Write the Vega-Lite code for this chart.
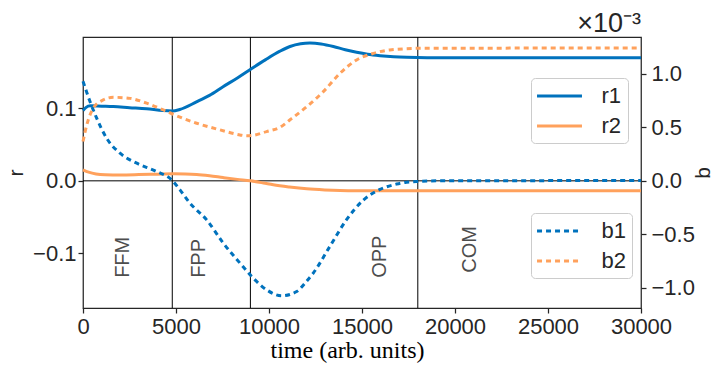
{
  "$schema": "https://vega.github.io/schema/vega-lite/v6.json",
  "width": 558,
  "height": 271,
  "autosize": {"type": "none"},
  "padding": {"left": 83, "top": 37, "right": 84, "bottom": 60},
  "background": "white",
  "config": {
    "view": {"stroke": "#262626", "strokeWidth": 1.25},
    "axis": {"grid": false, "domain": false, "labelFont": "Liberation Sans", "labelFontSize": 22, "labelColor": "#262626", "labelFlush": false, "labelOverlap": false, "tickColor": "#262626", "tickSize": 5, "tickWidth": 1.25, "titleFont": "Liberation Sans", "titleFontSize": 21, "titleFontWeight": "normal", "titleColor": "#262626"},
    "legend": {"orient": "none", "labelFont": "Liberation Sans", "labelFontSize": 22, "labelColor": "#262626", "symbolType": "M-2.14,0H2.14", "symbolSize": 441, "symbolStrokeWidth": 3, "symbolOffset": 10.5, "labelOffset": 30, "padding": 6, "rowPadding": 7, "strokeColor": "#cccccc", "fillColor": "rgba(255,255,255,0.85)", "cornerRadius": 4}
  },
  "title": {"text": "×10⁻³", "anchor": "end", "frame": "group", "font": "Liberation Sans", "fontSize": 27, "fontWeight": "normal", "color": "#262626", "baseline": "alphabetic", "offset": 5, "dy": 27},
  "datasets": {
    "vlines": [{"t": 4800}, {"t": 9000}, {"t": 18000}],
    "zero": [{"r": 0}],
    "labels": [
      {"t": 2150, "r": -0.134, "label": "FFM"},
      {"t": 6240, "r": -0.134, "label": "FPP"},
      {"t": 15970, "r": -0.134, "label": "OPP"},
      {"t": 20800, "r": -0.127, "label": "COM"}
    ],
    "rdata": [
      {"t": 0, "r": 0.097, "series": "r1"},
      {"t": 150, "r": 0.101, "series": "r1"},
      {"t": 400, "r": 0.1035, "series": "r1"},
      {"t": 1000, "r": 0.103, "series": "r1"},
      {"t": 1630, "r": 0.1025, "series": "r1"},
      {"t": 2500, "r": 0.101, "series": "r1"},
      {"t": 3420, "r": 0.0995, "series": "r1"},
      {"t": 4300, "r": 0.097, "series": "r1"},
      {"t": 4800, "r": 0.0965, "series": "r1"},
      {"t": 5200, "r": 0.0985, "series": "r1"},
      {"t": 6100, "r": 0.109, "series": "r1"},
      {"t": 6800, "r": 0.118, "series": "r1"},
      {"t": 7530, "r": 0.13, "series": "r1"},
      {"t": 8300, "r": 0.142, "series": "r1"},
      {"t": 9070, "r": 0.155, "series": "r1"},
      {"t": 9800, "r": 0.167, "series": "r1"},
      {"t": 10590, "r": 0.179, "series": "r1"},
      {"t": 11130, "r": 0.1855, "series": "r1"},
      {"t": 11700, "r": 0.1892, "series": "r1"},
      {"t": 12200, "r": 0.1902, "series": "r1"},
      {"t": 12800, "r": 0.189, "series": "r1"},
      {"t": 13460, "r": 0.1855, "series": "r1"},
      {"t": 14100, "r": 0.181, "series": "r1"},
      {"t": 14710, "r": 0.1775, "series": "r1"},
      {"t": 15300, "r": 0.1748, "series": "r1"},
      {"t": 15970, "r": 0.1728, "series": "r1"},
      {"t": 16700, "r": 0.1713, "series": "r1"},
      {"t": 17400, "r": 0.1705, "series": "r1"},
      {"t": 18500, "r": 0.17, "series": "r1"},
      {"t": 20000, "r": 0.17, "series": "r1"},
      {"t": 30000, "r": 0.17, "series": "r1"},
      {"t": 0, "r": 0.0152, "series": "r2"},
      {"t": 300, "r": 0.012, "series": "r2"},
      {"t": 700, "r": 0.0095, "series": "r2"},
      {"t": 1200, "r": 0.0085, "series": "r2"},
      {"t": 2000, "r": 0.0082, "series": "r2"},
      {"t": 3000, "r": 0.0086, "series": "r2"},
      {"t": 4000, "r": 0.0092, "series": "r2"},
      {"t": 4860, "r": 0.0097, "series": "r2"},
      {"t": 5500, "r": 0.0095, "series": "r2"},
      {"t": 6110, "r": 0.0088, "series": "r2"},
      {"t": 6800, "r": 0.007, "series": "r2"},
      {"t": 7530, "r": 0.0045, "series": "r2"},
      {"t": 8300, "r": 0.002, "series": "r2"},
      {"t": 9000, "r": 0.0, "series": "r2"},
      {"t": 9700, "r": -0.003, "series": "r2"},
      {"t": 10230, "r": -0.0055, "series": "r2"},
      {"t": 11100, "r": -0.0085, "series": "r2"},
      {"t": 12030, "r": -0.011, "series": "r2"},
      {"t": 13000, "r": -0.0125, "series": "r2"},
      {"t": 13820, "r": -0.0133, "series": "r2"},
      {"t": 15000, "r": -0.0137, "series": "r2"},
      {"t": 16000, "r": -0.0138, "series": "r2"},
      {"t": 30000, "r": -0.0138, "series": "r2"}
    ],
    "bdata": [
      {"t": 0, "b": 0.00093, "series": "b1"},
      {"t": 376, "b": 0.00074, "series": "b1"},
      {"t": 735, "b": 0.000585, "series": "b1"},
      {"t": 1270, "b": 0.000398, "series": "b1"},
      {"t": 1990, "b": 0.000258, "series": "b1"},
      {"t": 2890, "b": 0.000165, "series": "b1"},
      {"t": 3960, "b": 0.000087, "series": "b1"},
      {"t": 4770, "b": 0.000009, "series": "b1"},
      {"t": 5215, "b": -0.000084, "series": "b1"},
      {"t": 5750, "b": -0.000208, "series": "b1"},
      {"t": 6650, "b": -0.000364, "series": "b1"},
      {"t": 7540, "b": -0.000581, "series": "b1"},
      {"t": 8440, "b": -0.000768, "series": "b1"},
      {"t": 9070, "b": -0.000893, "series": "b1"},
      {"t": 9870, "b": -0.001017, "series": "b1"},
      {"t": 10680, "b": -0.001073, "series": "b1"},
      {"t": 11490, "b": -0.001033, "series": "b1"},
      {"t": 12030, "b": -0.000935, "series": "b1"},
      {"t": 12380, "b": -0.000861, "series": "b1"},
      {"t": 13280, "b": -0.00061, "series": "b1"},
      {"t": 14180, "b": -0.00036, "series": "b1"},
      {"t": 15070, "b": -0.00018, "series": "b1"},
      {"t": 15970, "b": -0.00008, "series": "b1"},
      {"t": 16860, "b": -0.00003, "series": "b1"},
      {"t": 17400, "b": -0.000012, "series": "b1"},
      {"t": 18080, "b": -0.000005, "series": "b1"},
      {"t": 19000, "b": 0.0, "series": "b1"},
      {"t": 30000, "b": 0.000003, "series": "b1"},
      {"t": 0, "b": 0.000367, "series": "b2"},
      {"t": 200, "b": 0.00052, "series": "b2"},
      {"t": 555, "b": 0.00068, "series": "b2"},
      {"t": 1090, "b": 0.000756, "series": "b2"},
      {"t": 1630, "b": 0.00078, "series": "b2"},
      {"t": 2530, "b": 0.00077, "series": "b2"},
      {"t": 3420, "b": 0.000725, "series": "b2"},
      {"t": 4320, "b": 0.000662, "series": "b2"},
      {"t": 4860, "b": 0.00062, "series": "b2"},
      {"t": 6110, "b": 0.000538, "series": "b2"},
      {"t": 7370, "b": 0.000476, "series": "b2"},
      {"t": 8440, "b": 0.000429, "series": "b2"},
      {"t": 8800, "b": 0.00042, "series": "b2"},
      {"t": 9160, "b": 0.000425, "series": "b2"},
      {"t": 9870, "b": 0.00046, "series": "b2"},
      {"t": 10590, "b": 0.0005, "series": "b2"},
      {"t": 11130, "b": 0.00057, "series": "b2"},
      {"t": 12030, "b": 0.000693, "series": "b2"},
      {"t": 12920, "b": 0.000833, "series": "b2"},
      {"t": 13820, "b": 0.001005, "series": "b2"},
      {"t": 14710, "b": 0.001129, "series": "b2"},
      {"t": 15610, "b": 0.00119, "series": "b2"},
      {"t": 16500, "b": 0.001222, "series": "b2"},
      {"t": 18300, "b": 0.001238, "series": "b2"},
      {"t": 30000, "b": 0.00124, "series": "b2"}
    ]
  },
  "layer": [
    {
      "layer": [
        {
          "data": {"name": "vlines"},
          "mark": {"type": "rule", "color": "black", "strokeWidth": 1},
          "encoding": {
            "x": {"field": "t", "type": "quantitative", "scale": {"domain": [0, 30000], "nice": false}, "title": "time (arb. units)",
              "axis": {"values": [0, 5000, 10000, 15000, 20000, 25000, 30000], "format": "d", "labelPadding": 3, "titleFont": "Liberation Serif", "titleFontSize": 24, "titleColor": "black", "titlePadding": 1, "titleX": 264}}
          }
        },
        {
          "data": {"name": "zero"},
          "mark": {"type": "rule", "color": "black", "strokeWidth": 1},
          "encoding": {
            "y": {"field": "r", "type": "quantitative", "scale": {"domain": [-0.1756, 0.1986], "nice": false, "zero": false}, "title": "r",
              "axis": {"orient": "left", "values": [-0.1, 0, 0.1], "format": ".1f", "labelPadding": 2, "titlePadding": 6}}
          }
        },
        {
          "data": {"name": "rdata"},
          "mark": {"type": "line", "strokeWidth": 3, "interpolate": "monotone"},
          "encoding": {
            "x": {"field": "t", "type": "quantitative", "scale": {"domain": [0, 30000], "nice": false}, "title": "time (arb. units)"},
            "y": {"field": "r", "type": "quantitative", "scale": {"domain": [-0.1756, 0.1986], "nice": false, "zero": false}, "title": "r"},
            "color": {"field": "series", "type": "nominal", "scale": {"domain": ["r1", "r2"], "range": ["#0072BD", "#FFA15C"]},
              "legend": {"title": null, "legendX": 448, "legendY": 41}}
          }
        },
        {
          "data": {"name": "labels"},
          "mark": {"type": "text", "angle": 270, "align": "left", "baseline": "middle", "font": "Liberation Sans", "fontSize": 20, "color": "#4d4d4d"},
          "encoding": {
            "x": {"field": "t", "type": "quantitative", "scale": {"domain": [0, 30000], "nice": false}, "title": "time (arb. units)"},
            "y": {"field": "r", "type": "quantitative", "scale": {"domain": [-0.1756, 0.1986], "nice": false, "zero": false}, "title": "r"},
            "text": {"field": "label"}
          }
        }
      ]
    },
    {
      "data": {"name": "bdata"},
      "mark": {"type": "line", "strokeWidth": 3, "strokeDash": [5, 4], "interpolate": "monotone"},
      "encoding": {
        "x": {"field": "t", "type": "quantitative", "scale": {"domain": [0, 30000], "nice": false}, "title": "time (arb. units)"},
        "y": {"field": "b", "type": "quantitative", "scale": {"domain": [-0.001187, 0.001343], "nice": false, "zero": false}, "title": "b",
          "axis": {"orient": "right", "values": [-0.001, -0.0005, 0, 0.0005, 0.001], "labelExpr": "format(datum.value * 1000, '.1f')", "labelPadding": 5, "titlePadding": 19, "titleAngle": 270}},
        "color": {"field": "series", "type": "nominal", "scale": {"domain": ["b1", "b2"], "range": ["#0072BD", "#FFA15C"]},
          "legend": {"title": null, "legendX": 448, "legendY": 176, "symbolDash": [5, 4]}}
      }
    }
  ],
  "resolve": {"scale": {"y": "independent", "color": "independent"}}
}
